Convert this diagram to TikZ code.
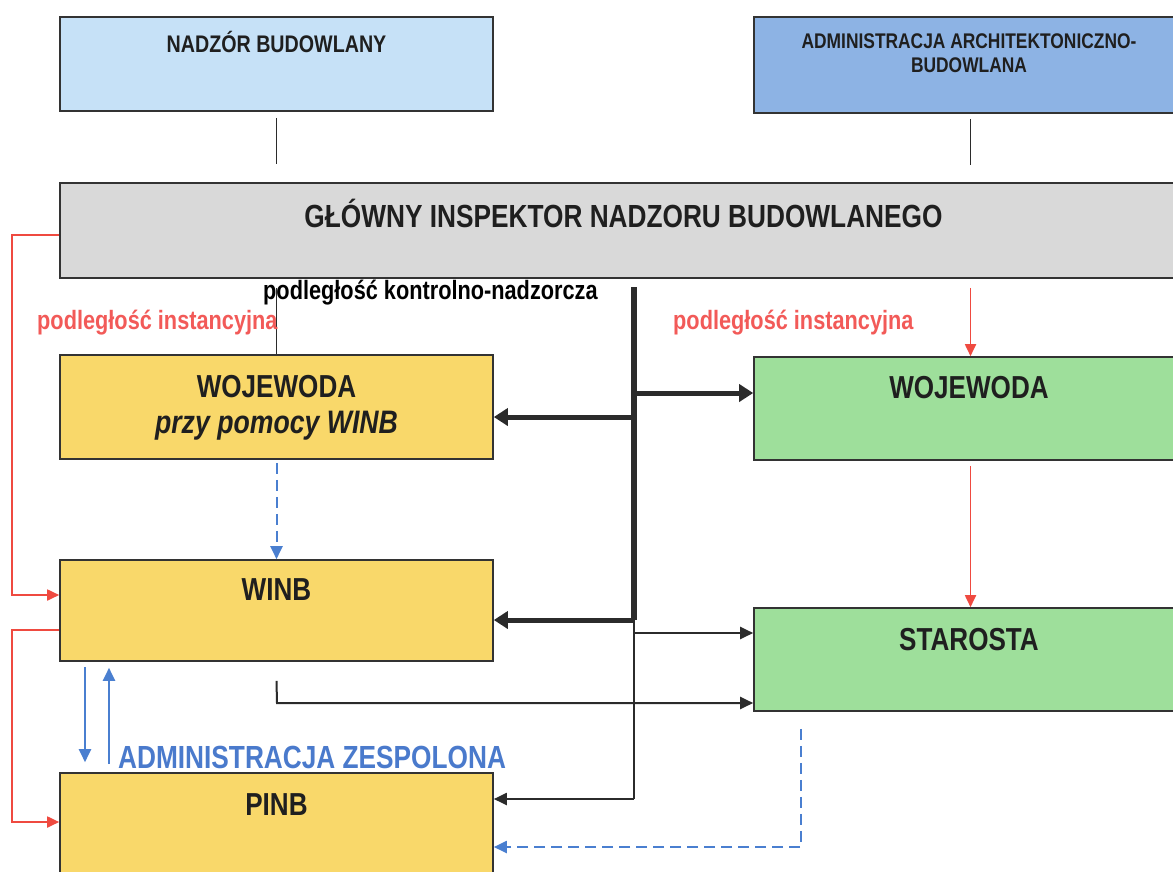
\documentclass[tikz,border=0pt]{standalone}
\usepackage{fontspec}
\setmainfont{Liberation Sans}[FakeStretch=0.82]
\usetikzlibrary{arrows.meta}
\definecolor{nbblue}{HTML}{C6E1F7}
\definecolor{aablue}{HTML}{8DB3E4}
\definecolor{ginGray}{HTML}{D9D9D9}
\definecolor{wyellow}{HTML}{F9D86A}
\definecolor{wgreen}{HTML}{9EDF9B}
\definecolor{boxline}{HTML}{333333}
\definecolor{darkline}{HTML}{2B2B2B}
\definecolor{redline}{HTML}{EF4A40}
\definecolor{redtext}{HTML}{F25A58}
\definecolor{blueline}{HTML}{4A7FD0}
\definecolor{bluetext}{HTML}{4A7ACC}
\begin{document}
\begin{tikzpicture}[x=1pt,y=-1pt,
  box/.style={draw=boxline, line width=1.6pt, minimum width=433pt, inner sep=0pt},
  ttl/.style={font=\bfseries\fontsize{31.8}{38}\selectfont, text=black!88, anchor=base, inner sep=0pt},
  blk/.style={draw=darkline, line width=1.8pt},
  blkthin/.style={draw=darkline, line width=2pt, -{Triangle[length=13pt,width=12pt]}},
  blkthick/.style={draw=darkline, line width=5pt, -{Triangle[length=14pt,width=17pt]}},
  redarr/.style={draw=redline, line width=1.8pt, -{Triangle[length=12pt,width=11pt]}},
  bluearr/.style={draw=blueline, line width=2pt, -{Triangle[length=13pt,width=12pt]}},
  bluedash/.style={draw=blueline, line width=2pt, dash pattern=on 11pt off 6pt, -{Triangle[length=13pt,width=12pt]}},
  lbl/.style={font=\bfseries\fontsize{26.5}{31}\selectfont, anchor=base west, inner sep=0pt}
]
\useasboundingbox (0,0) rectangle (1173,871);

% boxes
\node[box, fill=nbblue, minimum height=94pt] (nadzor) at (276.5,64) {};
\node[box, fill=aablue, minimum height=96pt] (admin) at (970.5,65) {};
\node[box, fill=ginGray, minimum width=1127pt, minimum height=95pt] (gin) at (623.5,230.5) {};
\node[box, fill=wyellow, minimum height=104pt] (wojy) at (276.5,407) {};
\node[box, fill=wgreen, minimum height=103pt] (wojg) at (970.5,408.5) {};
\node[box, fill=wyellow, minimum height=101pt] (winb) at (276.5,610.5) {};
\node[box, fill=wgreen, minimum height=103pt] (star) at (970.5,659.5) {};
\node[box, fill=wyellow, minimum height=104pt] (pinb) at (276.5,825) {};

% box texts
\node[ttl, font=\bfseries\fontsize{24}{28}\selectfont] (tnadzor) at (276.5,52) {NADZÓR BUDOWLANY};
\node[ttl, font=\bfseries\fontsize{21.2}{25}\selectfont] (tadmin1) at (969,48) {ADMINISTRACJA ARCHITEKTONICZNO-};
\node[ttl, font=\bfseries\fontsize{21.2}{25}\selectfont] (tadmin2) at (969,72) {BUDOWLANA};
\node[ttl, font=\bfseries\fontsize{32}{38}\selectfont] (tgin) at (623.5,227) {GŁÓWNY INSPEKTOR NADZORU BUDOWLANEGO};
\node[ttl] (twojy) at (276.5,397) {WOJEWODA};
\node[ttl, font=\bfseries\itshape\fontsize{32.5}{38}\selectfont] (twojy2) at (276.5,433) {przy pomocy WINB};
\node[ttl] (twojg) at (969,398) {WOJEWODA};
\node[ttl] (twinb) at (276.5,600) {WINB};
\node[ttl] (tstar) at (969,650) {STAROSTA};
\node[ttl] (tpinb) at (276.5,815) {PINB};

% top connectors
\draw[blk, shorten <=6pt, shorten >=18pt] (nadzor.south) -- (nadzor.south |- gin.north);
\draw[blk, shorten <=5pt, shorten >=17pt] (admin.south) -- (admin.south |- gin.north);
\draw[blk, shorten <=9pt] (gin.south -| wojy.north) -- (wojy.north);

% trunk
\coordinate (ttop) at (634,287);
\coordinate (tmid) at (634,620);
\coordinate (tbot) at (634,799);
\draw[draw=darkline, line width=6pt] (ttop) -- (tmid);
\draw[blk, line width=2pt] (tmid) -- (tbot);
\draw[blkthick] (ttop |- 0,417) -- (wojy.east |- 0,417);
\draw[blkthick] (ttop |- 0,393) -- (wojg.west |- 0,393);
\draw[blkthick] (tmid) -- (winb.east |- tmid);
\draw[blkthin] (tmid |- 0,633) -- (star.west |- 0,633);
\draw[blkthin] (tbot) -- (pinb.east |- tbot);
\draw[blkthin] (winb.south) ++(0,19) -- (277,703) -- (star.west |- 0,703);

% red
\draw[redarr, shorten <=9pt] (gin.south -| wojg.north) -- (wojg.north);
\draw[redarr, shorten <=5pt] (wojg.south) -- (star.north);
\draw[redarr] (gin.west |- 0,235) -- (12,235) |- (winb.west |- 0,595);
\draw[redarr] (winb.west |- 0,630) -- (12,630) |- (pinb.west |- 0,822);

% blue
\draw[bluedash, shorten <=3pt] (wojy.south) -- (winb.north);
\draw[bluearr, shorten <=5pt, shorten >=10pt] (winb.south -| 85,0) -- (pinb.north -| 85,0);
\draw[bluearr, shorten <=8pt, shorten >=6pt] (pinb.north -| 109,0) -- (winb.south -| 109,0);
\draw[bluedash, shorten <=17pt] (star.south -| 801,0) -- (801,847) -- (pinb.east |- 0,847);

% labels
\node[lbl] (lkn) at (263,299) {podległość kontrolno-nadzorcza};
\node[lbl, text=redtext] (lin1) at (37,329) {podległość instancyjna};
\node[lbl, text=redtext] (lin2) at (673,329) {podległość instancyjna};
\node[lbl, text=bluetext, font=\bfseries\fontsize{32}{38}\selectfont] (lzesp) at (118,768) {ADMINISTRACJA ZESPOLONA};
\end{tikzpicture}
\end{document}
